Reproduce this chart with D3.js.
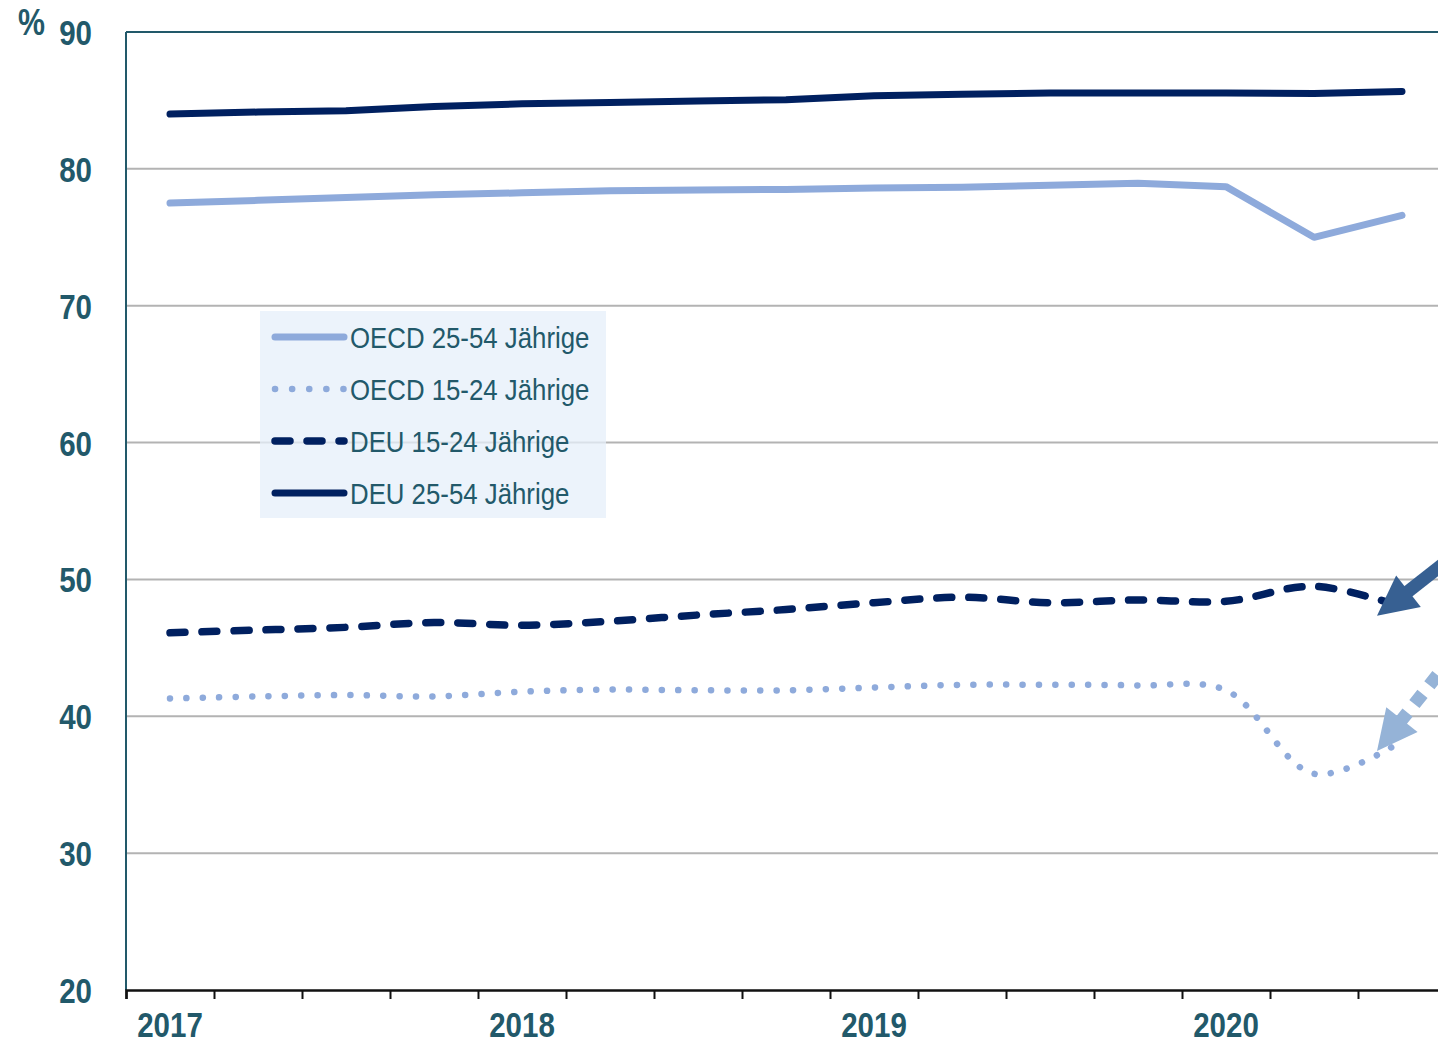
<!DOCTYPE html>
<html><head><meta charset="utf-8">
<script src="https://cdn.jsdelivr.net/npm/d3@7"></script>
<style>
html,body{margin:0;padding:0;background:#fff;}
svg{display:block;}
</style></head>
<body>
<svg id="c" width="1438" height="1042"></svg>
<script>
const quarters = ["2017Q1","2017Q2","2017Q3","2017Q4","2018Q1","2018Q2","2018Q3","2018Q4","2019Q1","2019Q2","2019Q3","2019Q4","2020Q1","2020Q2","2020Q3"];
const yearLabels = ["2017","2018","2019","2020"];
const yTicks = [20,30,40,50,60,70,80,90];
const seriesNames = ["OECD 25-54 Jährige","OECD 15-24 Jährige","DEU 15-24 Jährige","DEU 25-54 Jährige"];
const oecd2554 = [77.5, 77.7, 77.9, 78.1, 78.25, 78.4, 78.45, 78.5, 78.6, 78.65, 78.8, 78.95, 78.7, 75.0, 76.6];
const oecd1524 = [41.3, 41.45, 41.55, 41.45, 41.8, 41.95, 41.9, 41.9, 42.1, 42.3, 42.3, 42.25, 41.9, 35.8, 38.2];
const deu1524  = [46.1, 46.3, 46.5, 46.85, 46.65, 46.95, 47.4, 47.8, 48.3, 48.7, 48.3, 48.5, 48.4, 49.5, 48.0];
const deu2554  = [84.0, 84.15, 84.25, 84.55, 84.75, 84.85, 84.95, 85.05, 85.35, 85.45, 85.55, 85.55, 85.55, 85.5, 85.65];

const NAVY = "#002060", LIGHT = "#8eaadb", TEAL = "#22596a";
const FONT = "'Liberation Sans Narrow','Arial Narrow','Liberation Sans',sans-serif";

const svg = d3.select("#c");
const x = d3.scaleLinear().domain([0, quarters.length]).range([126, 126 + 88 * quarters.length]);
const y = d3.scaleLinear().domain([20, 90]).range([990, 32]);
const px = i => x(i + 0.5);

// condensed text helper
function ctext(g, tx, ty, txt, opts) {
  const t = g.append("text")
    .attr("transform", `translate(${tx},${ty}) scale(${opts.sx},1)`)
    .attr("text-anchor", opts.anchor || "start").attr("fill", TEAL)
    .style("font-family", FONT).style("font-size", opts.size + "px")
    .style("font-weight", opts.bold ? "bold" : "normal")
    .text(txt);
  return t;
}

// gridlines
svg.append("g").selectAll("line").data(yTicks.filter(v => v > 20 && v < 90)).join("line")
  .attr("x1", 126).attr("x2", 1438).attr("y1", d => y(d)).attr("y2", d => y(d))
  .attr("stroke", "#b3b3b3").attr("stroke-width", 2);

// top border
svg.append("line").attr("x1", 126).attr("x2", 1438).attr("y1", y(90)).attr("y2", y(90))
  .attr("stroke", TEAL).attr("stroke-width", 2);
// left spine
svg.append("line").attr("x1", 126).attr("x2", 126).attr("y1", y(90)).attr("y2", y(20))
  .attr("stroke", TEAL).attr("stroke-width", 2);

// bottom axis
const xAxis = d3.axisBottom(x).tickValues(d3.range(0, quarters.length + 1)).tickSize(9).tickFormat("");
const gx = svg.append("g").attr("transform", `translate(0,${y(20)})`).call(xAxis);
gx.select(".domain").attr("stroke", "#111").attr("stroke-width", 2.5);
gx.selectAll(".tick line").attr("stroke", "#111").attr("stroke-width", 2);

// year labels
const gyl = svg.append("g");
yearLabels.forEach((d, i) => ctext(gyl, px(i * 4), 1037, d, {sx: 0.82, size: 36, bold: true, anchor: "middle"}));

// y labels
const gyt = svg.append("g");
yTicks.forEach(d => ctext(gyt, 92, y(d) + 13, d, {sx: 0.82, size: 36, bold: true, anchor: "end"}));
ctext(svg, 18, 35, "%", {sx: 0.82, size: 37, bold: true});

// series
const styles = [
  {data: oecd2554, color: LIGHT, w: 7, dash: null, curve: d3.curveLinear},
  {data: oecd1524, color: LIGHT, w: 6.5, dash: "0.1,16.3", curve: d3.curveCatmullRom},
  {data: deu1524, color: NAVY, w: 7.5, dash: "15,17", curve: d3.curveCatmullRom},
  {data: deu2554, color: NAVY, w: 7, dash: null, curve: d3.curveLinear}
];
styles.forEach(s => {
  const line = d3.line().x((d, i) => px(i)).y(d => y(d)).curve(s.curve);
  svg.append("path").attr("d", line(s.data)).attr("fill", "none")
    .attr("stroke", s.color).attr("stroke-width", s.w)
    .attr("stroke-linecap", "round").attr("stroke-linejoin", "round")
    .attr("stroke-dasharray", s.dash);
});

// legend
const lg = svg.append("g");
lg.append("rect").attr("x", 260).attr("y", 311).attr("width", 346).attr("height", 207)
  .attr("fill", "#e6eff9").attr("fill-opacity", 0.75);
const legDash = [null, "0.1,17", "15,17", null];
seriesNames.forEach((n, i) => {
  const yy = 337 + i * 52;
  lg.append("line").attr("x1", 275).attr("x2", 344).attr("y1", yy).attr("y2", yy)
    .attr("stroke", styles[i].color).attr("stroke-width", styles[i].w)
    .attr("stroke-linecap", "round").attr("stroke-dasharray", legDash[i]);
  ctext(lg, 350, yy + 11, n, {sx: 0.86, size: 30, bold: false});
});

// annotation arrows
function arrow(tipX, tipY, dx, dy, color, dash) {
  const len = Math.hypot(dx, dy), ux = dx / len, uy = dy / len;
  const nx = -uy, ny = ux;
  const headLen = 40, headW = 20;
  const bx = tipX + ux * headLen, by = tipY + uy * headLen;
  svg.append("line").attr("x1", bx - ux * 4).attr("y1", by - uy * 4)
    .attr("x2", tipX + ux * 200).attr("y2", tipY + uy * 200)
    .attr("stroke", color).attr("stroke-width", 13).attr("stroke-dasharray", dash);
  svg.append("path").attr("d", `M${tipX},${tipY}L${bx + nx * headW},${by + ny * headW}L${bx - nx * headW},${by - ny * headW}Z`)
    .attr("fill", color);
}
const last = quarters.length - 1;
arrow(px(last) - 25, y(deu1524[last]) + 9, 60, -47, "#376092", null);
arrow(px(last) - 25, y(oecd1524[last]) + 10, 55, -69, "#95b3d7", "13,11");
</script>
</body></html>
